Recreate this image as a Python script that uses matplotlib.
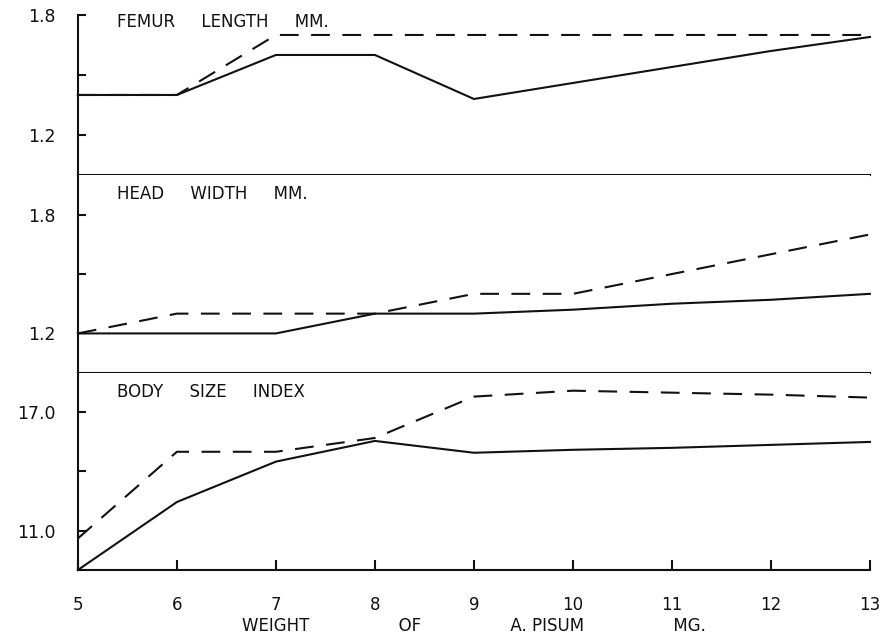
import numpy as np
import matplotlib.pyplot as plt

weight = [5, 6, 7, 8, 9, 10, 11, 12, 13]

femur_solid = [1.40, 1.40, 1.60, 1.60, 1.38, 1.46, 1.54, 1.62, 1.69]
femur_dash = [1.40, 1.40, 1.70, 1.70, 1.70, 1.70, 1.70, 1.70, 1.70]

head_solid = [1.20, 1.20, 1.20, 1.30, 1.30, 1.32, 1.35, 1.37, 1.40]
head_dash = [1.20, 1.30, 1.30, 1.30, 1.40, 1.40, 1.50, 1.60, 1.70]

body_solid = [9.0, 12.45, 14.5, 15.55, 14.95, 15.1, 15.2, 15.35, 15.5]
body_dash = [10.6, 15.0, 15.0, 15.7, 17.8, 18.1, 18.0, 17.9, 17.75]

panels = [
    ("FEMUR     LENGTH     MM.", femur_solid, femur_dash, (1.0, 1.8), [1.2, 1.5, 1.8], ["1.2", "", "1.8"]),
    ("HEAD     WIDTH     MM.", head_solid, head_dash, (1.0, 2.0), [1.2, 1.5, 1.8], ["1.2", "", "1.8"]),
    ("BODY     SIZE     INDEX", body_solid, body_dash, (9.0, 19.0), [11, 14, 17], ["11.0", "", "17.0"]),
]

# axes positions in figure fraction (left, bottom, width, height)
boxes = [
    [0.088, 0.7253, 0.895, 0.2512],
    [0.088, 0.4144, 0.895, 0.3108],
    [0.088, 0.1052, 0.895, 0.3093],
]
title_y = [1.01, 0.95, 0.95]

c = '#111111'
fig = plt.figure(figsize=(8.85, 6.37), dpi=100)

for i, (title, solid, dash, ylim, yt, ytl) in enumerate(panels):
    ax = fig.add_axes(boxes[i])
    ax.plot(weight, solid, color=c, lw=1.5, clip_on=False)
    ax.plot(weight, dash, color=c, lw=1.5, dashes=(9, 6), clip_on=False)
    ax.set_xlim(5, 13)
    ax.set_ylim(*ylim)
    ax.set_yticks(yt)
    ax.set_yticklabels(ytl, fontsize=12.5)
    ax.tick_params(axis='y', direction='in', length=6, width=1.5, pad=16, colors=c)
    for s in ['top', 'right']:
        ax.spines[s].set_visible(False)
    for s in ['left', 'bottom']:
        ax.spines[s].set_linewidth(1.5)
        ax.spines[s].set_color(c)
    ax.text(0.05, title_y[i], title, transform=ax.transAxes,
            fontsize=12, ha='left', va='top', color=c)
    if i < 2:
        ax.set_xticks([])
    else:
        ax.set_xticks(weight)
        ax.set_xticklabels([str(w) for w in weight], fontsize=12)
        ax.tick_params(axis='x', direction='in', length=7, width=1.5, pad=19, colors=c)
        ax.set_xlabel("WEIGHT                 OF                 A. PISUM                 MG.",
                      fontsize=12, labelpad=2, color=c)

fig.savefig('out.png', dpi=100)
